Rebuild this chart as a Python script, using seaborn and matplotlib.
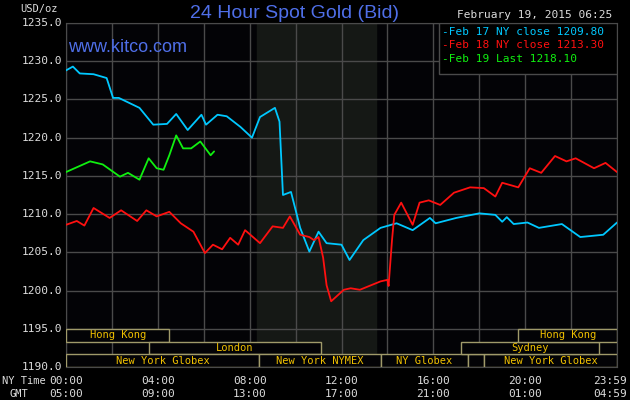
import numpy as np
import pandas as pd
import matplotlib
matplotlib.use("Agg")
from matplotlib import pyplot as plt
from matplotlib.patches import Rectangle
import seaborn as sns

# hours since 00:00 NY time, price in USD/oz
feb17_h = [0, 0.3, 0.6, 1.2, 1.77, 2.05, 2.3, 3.2, 3.8, 4.4, 4.8, 5.3, 5.9, 6.1, 6.6, 7.0, 7.6, 8.1,
           8.45, 9.1, 9.3, 9.45, 9.8, 10.2, 10.6, 11.0, 11.35, 12.0, 12.35, 12.95, 13.7, 14.4, 15.1,
           15.85, 16.1, 17.0, 18.0, 18.7, 19.0, 19.2, 19.5, 20.1, 20.6, 21.6, 22.4, 23.4, 24.0]
feb17_v = [1228.8, 1229.3, 1228.4, 1228.3, 1227.8, 1225.2, 1225.2, 1223.9, 1221.7, 1221.8, 1223.1,
           1221.0, 1223.0, 1221.7, 1223.0, 1222.8, 1221.4, 1220.0, 1222.7, 1223.9, 1222.1, 1212.5,
           1212.9, 1208.2, 1205.1, 1207.7, 1206.2, 1206.0, 1204.0, 1206.6, 1208.2, 1208.8, 1207.9,
           1209.5, 1208.8, 1209.5, 1210.1, 1209.9, 1209.0, 1209.6, 1208.7, 1208.9, 1208.2, 1208.7,
           1207.0, 1207.3, 1208.9]

feb18_h = [0, 0.47, 0.8, 1.2, 1.9, 2.4, 3.1, 3.5, 3.95, 4.5, 5.0, 5.55, 6.05, 6.4, 6.8, 7.15, 7.5,
           7.8, 8.45, 9.0, 9.45, 9.75, 10.2, 10.6, 10.8, 11.0, 11.2, 11.35, 11.55, 12.1, 12.4, 12.8,
           13.7, 14.0, 14.05, 14.2, 14.3, 14.6, 15.1, 15.4, 15.8, 16.3, 16.9, 17.6, 18.2, 18.7, 19.0,
           19.7, 20.2, 20.7, 21.3, 21.8, 22.2, 23.0, 23.5, 24.0]
feb18_v = [1208.6, 1209.1, 1208.5, 1210.8, 1209.5, 1210.5, 1209.1, 1210.5, 1209.7, 1210.3, 1208.8,
           1207.7, 1204.9, 1206.0, 1205.4, 1206.9, 1206.0, 1207.9, 1206.2, 1208.4, 1208.2, 1209.7,
           1207.3, 1207.0, 1206.6, 1207.0, 1204.3, 1200.7, 1198.6, 1200.1, 1200.3, 1200.1, 1201.2,
           1201.4, 1200.6, 1206.6, 1209.9, 1211.5, 1208.6, 1211.5, 1211.8, 1211.2, 1212.8, 1213.5,
           1213.4, 1212.3, 1214.1, 1213.5, 1216.0, 1215.4, 1217.6, 1216.9, 1217.3, 1216.0, 1216.7,
           1215.5]

feb19_h = [0, 1.05, 1.6, 2.35, 2.7, 3.2, 3.6, 3.95, 4.25, 4.5, 4.8, 5.1, 5.45, 5.85, 6.3, 6.45]
feb19_v = [1215.5, 1216.9, 1216.5, 1214.9, 1215.4, 1214.5, 1217.3, 1216.0, 1215.8, 1217.7, 1220.3,
           1218.6, 1218.6, 1219.5, 1217.7, 1218.2]

y_ticks = [1190.0, 1195.0, 1200.0, 1205.0, 1210.0, 1215.0, 1220.0, 1225.0, 1230.0, 1235.0]
x_ticks = [0, 4, 8, 12, 16, 20, 23.983]
ny_labels = ["00:00", "04:00", "08:00", "12:00", "16:00", "20:00", "23:59"]
gmt_labels = ["05:00", "09:00", "13:00", "17:00", "21:00", "01:00", "04:59"]

# trading sessions: (name, start hour, end hour, row)
sessions = [("Hong Kong", 0, 4.5, 2), ("London", 3.6, 11.1, 1), ("New York Globex", 0, 8.4, 0),
            ("New York NYMEX", 8.4, 13.7, 0), ("NY Globex", 13.7, 17.5, 0), ("", 17.5, 18.2, 0),
            ("New York Globex", 18.2, 24, 0), ("Sydney", 17.2, 23.2, 1), ("Hong Kong", 19.7, 24, 2)]

legend_items = [("Feb 17 NY close 1209.80", "#00c8ff"), ("Feb 18 NY close 1213.30", "#ff1010"),
                ("Feb 19 Last 1218.10", "#10f010")]

sns.set_style("dark")
mono = "DejaVu Sans Mono"
fig = plt.figure(figsize=(6.3, 4.0), dpi=100, facecolor="black")
ax = fig.add_axes([66 / 630, 1 - 367 / 400, 551 / 630, 344 / 400])
ax.set_facecolor("#030306")

ax.axvspan(8.3, 13.5, color="#151815", zorder=0)
for yv in y_ticks:
    ax.axhline(yv, color="#4a4a4a", lw=1, zorder=1)
for xv in np.arange(0, 25, 2):
    ax.axvline(xv, color="#4a4a4a", lw=1, zorder=1)

for h, v, c in [(feb17_h, feb17_v, "#00c8ff"), (feb18_h, feb18_v, "#ff1010"), (feb19_h, feb19_v, "#10f010")]:
    sns.lineplot(x=h, y=v, color=c, lw=1.3, ax=ax, zorder=3)

row_h = 5 / 3
for name, s, e, row in sessions:
    y0 = 1190 + row * row_h
    ax.add_patch(Rectangle((s, y0), e - s, row_h, fill=True, facecolor="#030306",
                           edgecolor="#a09a6a", lw=1, zorder=4))
    ax.text((s + e) / 2, y0 + row_h / 2, name, color="#f0c000", ha="center", va="center",
            fontsize=7.5, family=mono, zorder=5)

ax.set_xlim(0, 24)
ax.set_ylim(1190, 1235)
ax.set_xticks([])
ax.set_yticks([])
for sp in ax.spines.values():
    sp.set_color("#4a4a4a")

for yv in y_ticks:
    fig.text(62 / 630, 1 - (367 - (yv - 1190) * 344 / 45) / 400, f"{yv:.1f}", color="#dddddd",
             ha="right", va="center", fontsize=8, family=mono)
for i, (xv, a, b) in enumerate(zip(x_ticks, ny_labels, gmt_labels)):
    xp = (66 + xv * 551 / 24) / 630
    ha = "center"
    if i == len(x_ticks) - 1:
        xp, ha = 627 / 630, "right"
    fig.text(xp, 1 - 381 / 400, a, color="#dddddd", ha=ha, va="center", fontsize=8, family=mono)
    fig.text(xp, 1 - 394 / 400, b, color="#dddddd", ha=ha, va="center", fontsize=8, family=mono)
fig.text(2 / 630, 1 - 381 / 400, "NY Time", color="#dddddd", va="center", fontsize=7.5, family=mono)
fig.text(10 / 630, 1 - 394 / 400, "GMT", color="#dddddd", va="center", fontsize=7.5, family=mono)
fig.text(20 / 630, 1 - 9 / 400, "USD/oz", color="#dddddd", va="center", fontsize=7.5, family=mono)

fig.text(295 / 630, 1 - 13 / 400, "24 Hour Spot Gold (Bid)", color="#4f6fe8", ha="center",
         va="center", fontsize=14, family="Liberation Sans")
fig.text(68 / 630, 1 - 48 / 400, "www.kitco.com", color="#4f6fe8", va="center", fontsize=13,
         family="Liberation Sans")
fig.text(612 / 630, 1 - 15 / 400, "February 19, 2015 06:25", color="#dddddd", ha="right",
         va="center", fontsize=8, family=mono)

ax.add_patch(Rectangle((16.25, 1228.3), 7.75, 6.7, facecolor="black", edgecolor="#4a4a4a",
                       lw=1, zorder=6))
for i, (txt, c) in enumerate(legend_items):
    fig.text(442 / 630, 1 - (32 + i * 13.5) / 400, "-" + txt, color=c, va="center", fontsize=8,
             family=mono, zorder=7)

fig.savefig("out.png", dpi=100, facecolor="black")
